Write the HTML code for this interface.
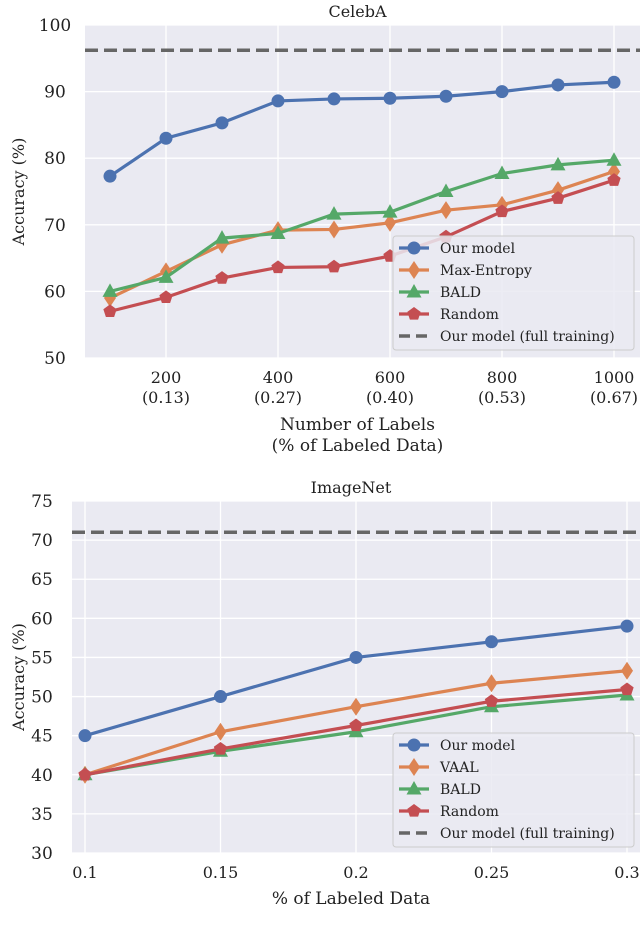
<!DOCTYPE html>
<html><head><meta charset="utf-8"><style>
body{margin:0;background:#fff;width:640px;height:940px;overflow:hidden}
svg{display:block;font-family:"DejaVu Serif","Liberation Serif",serif}
</style></head><body>
<svg id="c" width="640" height="940"></svg>
<script>
const celebaX=[100,200,300,400,500,600,700,800,900,1000];
const celebaOur=[77.3,83,85.3,88.6,88.9,89,89.3,90,91,91.4];
const celebaMaxEnt=[59,63,67,69.2,69.3,70.3,72.2,73,75.2,78];
const celebaBald=[60,62.1,68,68.7,71.6,71.9,75,77.7,79,79.7];
const celebaRandom=[57,59.1,62,63.6,63.7,65.3,68.2,72,74,76.7];
const celebaFull=96.2;
const celebaXTicks=[200,400,600,800,1000];
const celebaXTickSub=["(0.13)","(0.27)","(0.40)","(0.53)","(0.67)"];
const celebaYTicks=[50,60,70,80,90,100];
const imnX=[0.1,0.15,0.2,0.25,0.3];
const imnOur=[45,50,55,57,59];
const imnVaal=[40,45.5,48.7,51.7,53.3];
const imnBald=[40,43,45.5,48.7,50.2];
const imnRandom=[40,43.3,46.3,49.4,50.9];
const imnFull=71;
const imnXTicks=[0.1,0.15,0.2,0.25,0.3];
const imnXTickLabels=["0.1","0.15","0.2","0.25","0.3"];
const imnYTicks=[30,35,40,45,50,55,60,65,70,75];

const NS="http://www.w3.org/2000/svg";
const svg=document.getElementById('c');
function el(t,a,p){const e=document.createElementNS(NS,t);for(const k in a)e.setAttribute(k,a[k]);(p||svg).appendChild(e);return e;}
const C={blue:"#4C72B0",orange:"#DD8452",green:"#55A868",red:"#C44E52"};
function marker(g,kind,x,y,col){
 let m;
 if(kind==="o")m=el('circle',{cx:x,cy:y,r:6.5,fill:col},g);
 else if(kind==="d")m=el('polygon',{points:`${x},${y-9} ${x+6},${y} ${x},${y+9} ${x-6},${y}`,fill:col},g);
 else if(kind==="^")m=el('polygon',{points:`${x},${y-8} ${x+7.5},${y+5.5} ${x-7.5},${y+5.5}`,fill:col},g);
 else{let p=[];for(let i=0;i<5;i++){const a=-Math.PI/2+i*2*Math.PI/5;p.push((x+7*Math.cos(a))+","+(y+7*Math.sin(a)));}m=el('polygon',{points:p.join(" "),fill:col},g);}
 return m;
}
function chart(o){
 const g=el('g',{});
 
 
 const sx=v=>o.x0+(v-o.xv0)*(o.x1-o.x0)/(o.xv1-o.xv0);
 const sy=v=>o.y0+(v-o.yv0)*(o.y1-o.y0)/(o.yv1-o.yv0);
 const bg=el('rect',{x:o.L,y:o.T,width:o.R-o.L,height:o.B-o.T,fill:"#EAEAF2"},g);
 
 o.yt.forEach(v=>{el('line',{x1:o.L,x2:o.R,y1:sy(v),y2:sy(v),stroke:"#fff","stroke-width":1.3},g);
  const t=el('text',{x:o.L-30,y:sy(v)+6,"font-size":17,fill:"#222","text-anchor":"middle"},g);t.textContent=v;
  });
 o.xt.forEach((v,i)=>{el('line',{x1:sx(v),x2:sx(v),y1:o.T,y2:o.B,stroke:"#fff","stroke-width":1.3},g);
  const t=el('text',{x:sx(v),y:o.B+25,"font-size":16,fill:"#222","text-anchor":"middle"},g);t.textContent=o.xl[i];
  
  if(o.xs){const t2=el('text',{x:sx(v),y:o.B+45,"font-size":16,fill:"#222","text-anchor":"middle"},g);t2.textContent=o.xs[i];
  }});
 const d=el('line',{x1:o.L,x2:o.R,y1:sy(o.full),y2:sy(o.full),stroke:"#666","stroke-width":3.5,"stroke-dasharray":"13 6"},g);
 
 o.series.forEach(s=>{
  const sg=el('g',{},g);
  el('polyline',{points:o.xs_.map((x,i)=>sx(x)+","+sy(s.v[i])).join(" "),fill:"none",stroke:s.c,"stroke-width":3.2},sg);
  o.xs_.forEach((x,i)=>marker(sg,s.m,sx(x),sy(s.v[i]),s.c));
 });
 const tt=el('text',{x:(o.L+o.R)/2-5,y:o.T-8,"font-size":16,fill:"#222","text-anchor":"middle"},g);tt.textContent=o.title;
 
 const yl=el('text',{x:0,y:0,"font-size":16,fill:"#222","text-anchor":"middle",transform:`translate(24,${(o.T+o.B)/2}) rotate(-90)`},g);yl.textContent="Accuracy (%)";
 
 o.xtitle.forEach((s,i)=>{const t=el('text',{x:(o.L+o.R)/2-5,y:o.xty+i*21,"font-size":17,fill:"#222","text-anchor":"middle"},g);t.textContent=s;
  });
 // legend
 const lg=el('g',{},g);
 el('rect',{x:o.lx,y:o.ly,width:241,height:114,rx:3,fill:"#EAEAF2","fill-opacity":0.85,stroke:"#ccc"},lg);
 const items=o.series.concat([{label:"Our model (full training)",dash:true}]);
 items.forEach((s,i)=>{const y=o.ly+12+i*22;
  const eg=el('g',{},lg);
  if(s.dash)el('line',{x1:o.lx+6,x2:o.lx+36,y1:y,y2:y,stroke:"#666","stroke-width":3.5,"stroke-dasharray":"11 6"},eg);
  else{el('line',{x1:o.lx+6,x2:o.lx+36,y1:y,y2:y,stroke:s.c,"stroke-width":3.2},eg);marker(eg,s.m,o.lx+21,y,s.c);}
  const t=el('text',{x:o.lx+47,y:y+5,"font-size":14,fill:"#222"},eg);t.textContent=s.label;});
}
chart({name:"celeba-chart",title:"CelebA",L:85,R:640,T:25,B:358,x0:110,x1:614,xv0:100,xv1:1000,y0:358,y1:25,yv0:50,yv1:100,
 yt:celebaYTicks,xt:celebaXTicks,xl:celebaXTicks.map(String),xs:celebaXTickSub,full:celebaFull,xs_:celebaX,
 xtitle:["Number of Labels","(% of Labeled Data)"],xty:430,lx:393,ly:236,
 series:[{name:"series-our-model",label:"Our model",v:celebaOur,c:C.blue,m:"o"},
 {name:"series-max-entropy",label:"Max-Entropy",v:celebaMaxEnt,c:C.orange,m:"d"},
 {name:"series-bald",label:"BALD",v:celebaBald,c:C.green,m:"^"},
 {name:"series-random",label:"Random",v:celebaRandom,c:C.red,m:"p"}]});
chart({name:"imagenet-chart",title:"ImageNet",L:72,R:640,T:501,B:853,x0:85,x1:627,xv0:0.1,xv1:0.3,y0:853,y1:501,yv0:30,yv1:75,
 yt:imnYTicks,xt:imnXTicks,xl:imnXTickLabels,xs:null,full:imnFull,xs_:imnX,
 xtitle:["% of Labeled Data"],xty:904,lx:393,ly:733,
 series:[{name:"series-our-model",label:"Our model",v:imnOur,c:C.blue,m:"o"},
 {name:"series-vaal",label:"VAAL",v:imnVaal,c:C.orange,m:"d"},
 {name:"series-bald",label:"BALD",v:imnBald,c:C.green,m:"^"},
 {name:"series-random",label:"Random",v:imnRandom,c:C.red,m:"p"}]});
</script>
</body></html>
